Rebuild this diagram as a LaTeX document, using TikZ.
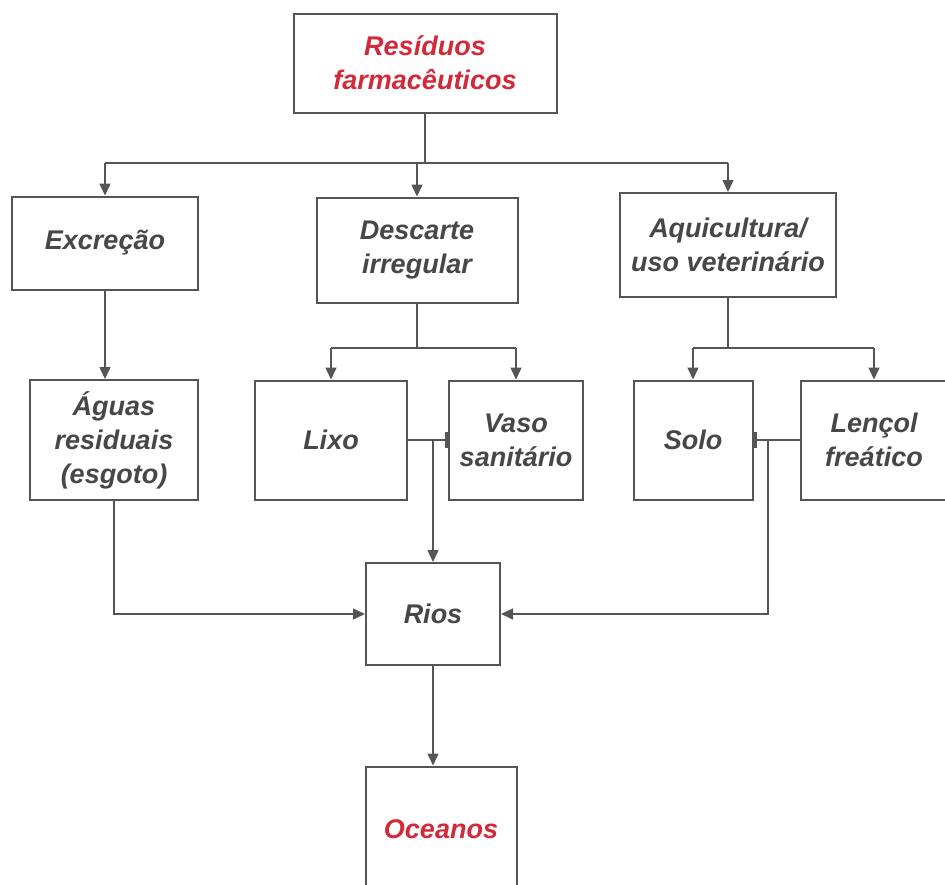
\documentclass[tikz,border=0pt]{standalone}
\usepackage{fontspec}
\setmainfont{Liberation Sans}
\usetikzlibrary{arrows.meta}

\definecolor{boxgray}{HTML}{555555}
\definecolor{txtgray}{HTML}{474747}
\definecolor{txtred}{HTML}{D12A3B}

\tikzset{
  box/.style={draw=boxgray, line width=2pt, fill=white, align=center,
    text=txtgray, font=\fontsize{27}{34}\selectfont\bfseries\itshape},
  redbox/.style={box, text=txtred},
  arr/.style={draw=boxgray, line width=1.5pt, -{Triangle[length=12pt,width=11pt]}},
  link/.style={draw=boxgray, line width=1.5pt},
  barlink/.style={link, -{Bar[width=16pt,line width=3pt]}}
}

\begin{document}
\begin{tikzpicture}[x=1pt, y=-1pt]
    \useasboundingbox (0,0) rectangle (945,884);

    % Boxes
    \node[redbox, minimum width=263pt, minimum height=99pt] (res) at (425,63) {Resíduos\\farmacêuticos};

    \node[box, minimum width=186pt, minimum height=93pt] (exc) at (105,243) {Excreção};
    \node[box, minimum width=201pt, minimum height=105pt] (des) at (417,250) {Descarte\\irregular};
    \node[box, minimum width=216pt, minimum height=104pt] (aqu) at (728,245) {Aquicultura/\\uso veterinário};

    \node[box, minimum width=168pt, minimum height=120pt] (agu) at (114,440) {Águas\\residuais\\(esgoto)};
    \node[box, minimum width=152pt, minimum height=119pt] (lixo) at (331,440) {Lixo};
    \node[box, minimum width=134pt, minimum height=119pt] (vaso) at (516,440) {Vaso\\sanitário};
    \node[box, minimum width=119pt, minimum height=119pt] (solo) at (693,440) {Solo};
    \node[box, minimum width=147pt, minimum height=119pt] (lenc) at (874,440) {Lençol\\freático};

    \node[box, minimum width=134pt, minimum height=102pt] (rios) at (433,614) {Rios};
    \node[redbox, minimum width=151pt, minimum height=125pt] (oce) at (441,829) {Oceanos};

    % Define coordinates
    \coordinate (split) at (425,163);
    \coordinate (splitd) at (417,348);
    \coordinate (splita) at (728,348);
    \coordinate (jright) at (768,440);

    % Top level
    \draw[link] (res.south) -- (split);
    \draw[link] (exc.north |- split) -- (aqu.north |- split);
    \draw[arr] (exc.north |- split) -- (exc.north);
    \draw[arr] (des.north |- split) -- (des.north);
    \draw[arr] (aqu.north |- split) -- (aqu.north);

    % Second level
    \draw[arr] (exc.south) -- (exc.south |- agu.north);
    \draw[link] (des.south) -- (splitd);
    \draw[link] (lixo.north |- splitd) -- (vaso.north |- splitd);
    \draw[arr] (lixo.north |- splitd) -- (lixo.north);
    \draw[arr] (vaso.north |- splitd) -- (vaso.north);
    \draw[link] (aqu.south) -- (splita);
    \draw[link] (solo.north |- splita) -- (lenc.north |- splita);
    \draw[arr] (solo.north |- splita) -- (solo.north);
    \draw[arr] (lenc.north |- splita) -- (lenc.north);

    % To the rivers
    \draw[barlink] (lixo.east) -- (vaso.west);
    \draw[arr] (rios.north |- lixo.east) -- (rios.north);
    \draw[barlink] (lenc.west) -- (solo.east);
    \draw[arr] (jright) |- (rios.east);
    \draw[arr] (agu.south) |- (rios.west);
    \draw[arr] (rios.south) -- (rios.south |- oce.north);
  \end{tikzpicture}
\end{document}
